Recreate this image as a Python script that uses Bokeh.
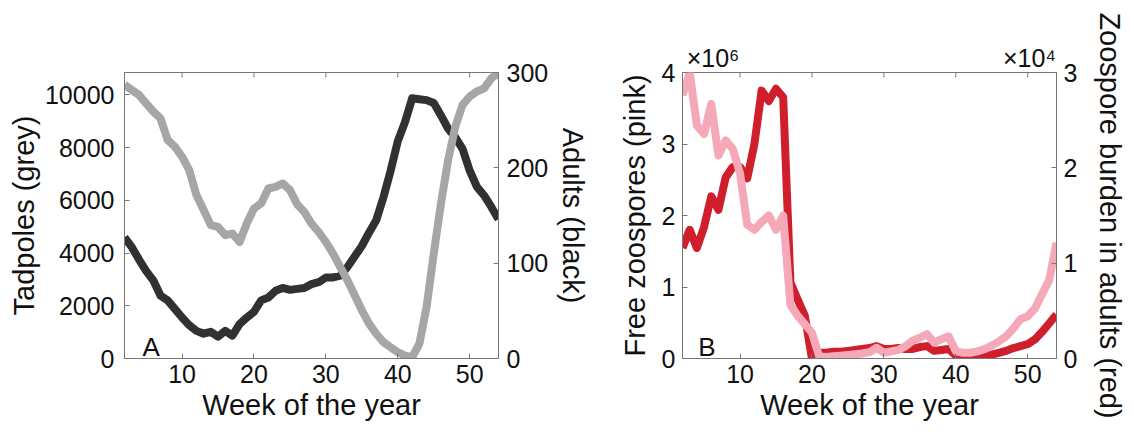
import math
from bokeh.plotting import figure
from bokeh.models import Range1d, LinearAxis, FixedTicker, Label
from bokeh.layouts import row
from bokeh.embed import file_html
from bokeh.resources import INLINE

# ---------------- data ----------------
weeks = list(range(2, 55))

tadpoles = [10380, 10190, 10000, 9680, 9370, 9110, 8290, 8035, 7655, 7150,
            6200, 5630, 5060, 4990, 4680, 4740, 4420, 5120, 5690, 5880,
            6450, 6510, 6640, 6390, 5850, 5560, 5120, 4800, 4420, 3980,
            3470, 2970, 2400, 1830, 1320, 940, 620, 430, 240, 110,
            50, 560, 1950, 3980, 5880, 7530, 8800, 9620, 9940, 10130,
            10250, 10630, 10820]

adults = [127, 117, 104, 92, 82, 66, 61, 52, 43, 35,
          29, 26, 28, 23, 29, 24, 36, 43, 49, 61,
          64, 71, 74, 72, 73, 74, 78, 80, 85, 85,
          87, 96, 107, 118, 132, 145, 169, 197, 228, 248,
          273, 272, 271, 268, 255, 241, 232, 220, 197, 180,
          171, 159, 146]

# free zoospores, in units of 10^6
free_zoospores = [3.68, 4.00, 3.26, 3.14, 3.56, 2.84, 3.05, 2.93, 2.59, 1.87,
                  1.80, 1.91, 2.00, 1.80, 2.00, 0.75, 0.60, 0.48, 0.36, 0.03,
                  0.02, 0.03, 0.04, 0.05, 0.06, 0.07, 0.09, 0.15, 0.08, 0.10,
                  0.12, 0.17, 0.25, 0.29, 0.34, 0.22, 0.27, 0.31, 0.10, 0.08,
                  0.08, 0.10, 0.13, 0.18, 0.24, 0.31, 0.42, 0.55, 0.59, 0.70,
                  0.90, 1.10, 1.62]

# zoospore burden in adults, in units of 10^4
burden_adults = [1.16, 1.35, 1.16, 1.38, 1.70, 1.56, 1.90, 2.01, 2.01, 1.89,
                 2.25, 2.81, 2.70, 2.83, 2.74, 0.80, 0.62, 0.45, 0.00, 0.06,
                 0.06, 0.07, 0.07, 0.08, 0.09, 0.10, 0.11, 0.13, 0.10, 0.10,
                 0.11, 0.10, 0.10, 0.12, 0.13, 0.08, 0.09, 0.10, 0.03, 0.02,
                 0.01, 0.01, 0.02, 0.04, 0.06, 0.08, 0.11, 0.13, 0.15, 0.20,
                 0.28, 0.37, 0.46]

x_ticks = [10, 20, 30, 40, 50]
tad_ticks = [0, 2000, 4000, 6000, 8000, 10000]
adult_ticks = [0, 100, 200, 300]
free_ticks = [0, 1, 2, 3, 4]
burden_ticks = [0, 1, 2, 3]
exponent_labels = {6.25: "\u00d710\u2076", 50.25: "\u00d710\u2074"}

X_MIN, X_MAX = 2, 54
TAD_MAX, ADULT_MAX = 10850, 300
FREE_MAX, BURDEN_MAX = 4, 3

# ---------------- style ----------------
FONT = "Liberation Sans"
FRAME = "#777777"
TXT = "#111111"
GREY = "#a6a6a6"
DARK = "#333030"
RED = "#d01f2c"
PINK = "#f5a9b8"


def style_axis(ax, ticks):
    ax.ticker = FixedTicker(ticks=ticks)
    ax.axis_line_color = FRAME
    ax.major_tick_line_color = FRAME
    ax.major_tick_in = 5
    ax.major_tick_out = 0
    ax.minor_tick_line_color = None
    ax.major_label_text_font = FONT
    ax.major_label_text_font_size = "25px"
    ax.major_label_text_color = TXT
    ax.axis_label_text_font = FONT
    ax.axis_label_text_font_size = "29px"
    ax.axis_label_text_font_style = "normal"
    ax.axis_label_text_color = TXT


def base_fig(width, left, right, y_max):
    p = figure(width=width, height=434, x_range=Range1d(X_MIN, X_MAX),
               y_range=Range1d(0, y_max), output_backend="svg",
               toolbar_location=None, min_border_left=left,
               min_border_right=right, min_border_top=72,
               min_border_bottom=76)
    p.xgrid.grid_line_color = None
    p.ygrid.grid_line_color = None
    p.outline_line_color = FRAME
    p.background_fill_color = "white"
    p.border_fill_color = "white"
    return p


def top_ticks(p, y_top):
    # inward tick marks on the top edge of the box
    p.ray(x=x_ticks, y=[y_top] * len(x_ticks), length=5,
          length_units="screen", angle=-math.pi / 2, line_color=FRAME,
          line_width=1)


# ---------------- panel A ----------------
pA = base_fig(600, 124, 102, TAD_MAX)
pA.extra_y_ranges = {"adults": Range1d(0, ADULT_MAX)}
style_axis(pA.xaxis[0], x_ticks)
pA.xaxis[0].axis_label = "Week of the year"
pA.xaxis[0].major_label_standoff = 6
pA.xaxis[0].axis_label_standoff = 3
style_axis(pA.yaxis[0], tad_ticks)
pA.yaxis[0].axis_label = "Tadpoles (grey)"
pA.yaxis[0].major_label_standoff = 10
pA.yaxis[0].axis_label_standoff = 2

ra = LinearAxis(y_range_name="adults", axis_label="Adults (black)")
style_axis(ra, adult_ticks)
ra.major_label_standoff = 8
ra.axis_label_standoff = 6
pA.add_layout(ra, "right")
top_ticks(pA, TAD_MAX)

pA.line(weeks, adults, y_range_name="adults", line_color=DARK,
        line_width=8, line_join="round")
pA.line(weeks, tadpoles, line_color=GREY, line_width=8, line_join="round")
pA.add_layout(Label(x=4.5, y=420, text="A", text_font=FONT,
                    text_font_size="26px", text_color=TXT,
                    text_baseline="alphabetic"))

# ---------------- panel B ----------------
pB = base_fig(534, 82, 78, FREE_MAX)
pB.extra_y_ranges = {"burden": Range1d(0, BURDEN_MAX)}
style_axis(pB.xaxis[0], x_ticks)
pB.xaxis[0].axis_label = "Week of the year"
pB.xaxis[0].major_label_standoff = 6
pB.xaxis[0].axis_label_standoff = 3
style_axis(pB.yaxis[0], free_ticks)
pB.yaxis[0].axis_label = "Free zoospores (pink)"
pB.yaxis[0].major_label_standoff = 7
pB.yaxis[0].axis_label_standoff = 8

rb = LinearAxis(y_range_name="burden",
                axis_label="Zoospore burden in adults (red)")
style_axis(rb, burden_ticks)
rb.major_label_standoff = 7
rb.axis_label_standoff = 14
pB.add_layout(rb, "right")

# exponent texts above the box, carried by a top axis
ea = LinearAxis(ticker=FixedTicker(ticks=list(exponent_labels)),
                major_label_overrides=exponent_labels)
ea.axis_line_color = None
ea.major_tick_line_color = None
ea.minor_tick_line_color = None
ea.major_tick_in = 0
ea.major_tick_out = 0
ea.major_label_standoff = 1
ea.major_label_text_font = FONT
ea.major_label_text_font_size = "25px"
ea.major_label_text_color = TXT
pB.add_layout(ea, "above")
top_ticks(pB, FREE_MAX)

pB.line(weeks, burden_adults, y_range_name="burden", line_color=RED,
        line_width=8, line_join="round")
pB.line(weeks, free_zoospores, line_color=PINK, line_width=8,
        line_join="round")
pB.add_layout(Label(x=4.2, y=0.167, text="B", text_font=FONT,
                    text_font_size="26px", text_color=TXT,
                    text_baseline="alphabetic"))

layout = row(pA, pB)
open("out.html", "w").write(file_html(layout, INLINE))
